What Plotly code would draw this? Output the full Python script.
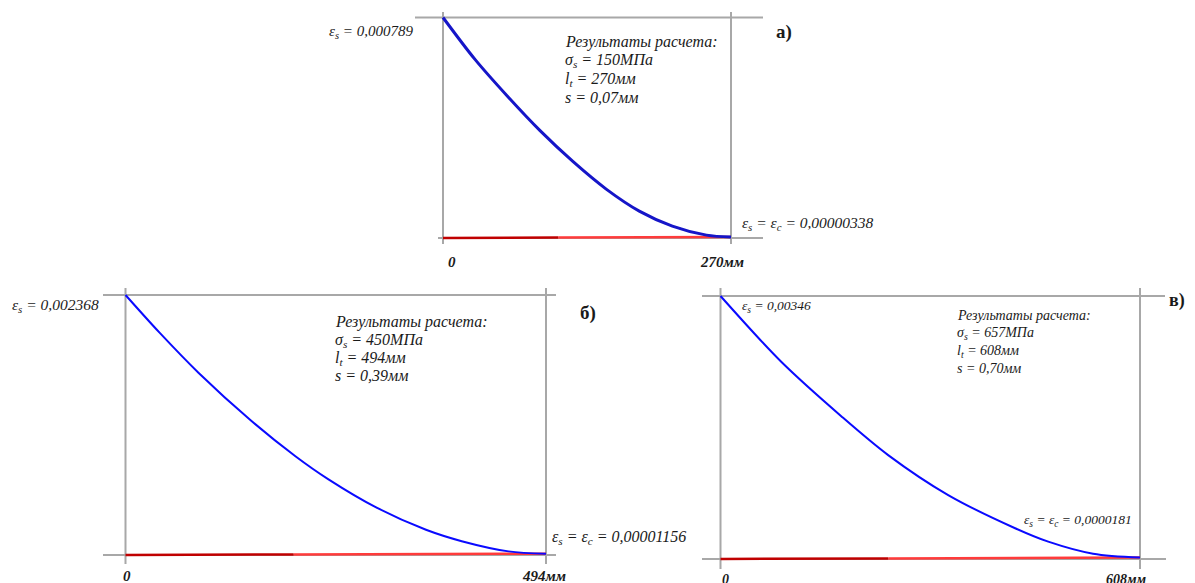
import plotly.graph_objects as go

# ---------------- data ----------------
# panel а)
a_x = [0, 30, 60, 91, 122, 153, 184, 215, 247, 270]
a_eps = [0.000789, 0.000639, 0.000509, 0.000384, 0.000273, 0.000175, 0.0000963, 0.0000426, 0.0000103, 0.00000338]
a_conc_x = [0, 270]
a_conc_eps = [0.0, 0.00000338]

# panel б)
b_x = [0, 40, 86, 147, 200, 238, 295, 353, 395, 450, 494]
b_eps = [0.002368, 0.002025, 0.001658, 0.001227, 0.000897, 0.000691, 0.000431, 0.000230, 0.000126, 0.000033, 0.00001156]
b_conc_x = [0, 494]
b_conc_eps = [0.0, 0.00001156]

# panel в)
c_x = [0, 88, 175, 243, 330, 427, 475, 540, 608]
c_eps = [0.00346, 0.002595, 0.001879, 0.001367, 0.000841, 0.000405, 0.000228, 0.0000692, 0.0000181]
c_conc_x = [0, 608]
c_conc_eps = [0.0, 0.0000181]

# text
a_texts = {"top": "ε<sub>s</sub> = 0,000789",
           "block": ["Результаты расчета:", "σ<sub>s</sub> = 150МПа", "l<sub>t</sub> = 270мм", "s = 0,07мм"],
           "end": "ε<sub>s</sub> = ε<sub>c</sub> = 0,00000338",
           "x0": "0", "x1": "270мм", "tag": "а)"}
b_texts = {"top": "ε<sub>s</sub> = 0,002368",
           "block": ["Результаты расчета:", "σ<sub>s</sub> = 450МПа", "l<sub>t</sub> = 494мм", "s = 0,39мм"],
           "end": "ε<sub>s</sub> = ε<sub>c</sub> = 0,00001156",
           "x0": "0", "x1": "494мм", "tag": "б)"}
c_texts = {"top": "ε<sub>s</sub> = 0,00346",
           "block": ["Результаты расчета:", "σ<sub>s</sub> = 657МПа", "l<sub>t</sub> = 608мм", "s = 0,70мм"],
           "end": "ε<sub>s</sub> = ε<sub>c</sub> = 0,0000181",
           "x0": "0", "x1": "608мм", "tag": "в)"}

# ---------------- layout geometry (screen pixels) ----------------
SCR_W, SCR_H = 1195, 583
OFF = 8                      # default page body margin
W, H = SCR_W - OFF, SCR_H - OFF
GRAY = "#a8a8a8"
TXT = "#1a1a1a"
SERIF = "Liberation Serif, 'Times New Roman', Times, serif"

panels = [
    dict(xs=a_x, ys=a_eps, cx=a_conc_x, cy=a_conc_eps, t=a_texts,
         L0=443, L1=731, T=17.5, B=238,
         top_l=415, top_r=763, bot_l=438, bot_r=763, v_t=12, v_b=244,
         blue="#1515c8", bw=3.0,
         top_pos=(415, 32, "right", 15),
         block_pos=(563, [42, 60.5, 79, 97.5], 16),
         end_pos=(740, 224, 15.5),
         x0_pos=(452, 262), x1_pos=(722, 262), lab_size=15,
         tag_pos=(784, 32, "center", 19)),
    dict(xs=b_x, ys=b_eps, cx=b_conc_x, cy=b_conc_eps, t=b_texts,
         L0=125.5, L1=546, T=295, B=555,
         top_l=103, top_r=556, bot_l=103, bot_r=556, v_t=288, v_b=564,
         blue="#0a0aff", bw=2.0,
         top_pos=(101, 305, "right", 15.5),
         block_pos=(333, [322, 340, 358, 375.5], 16),
         end_pos=(550, 537, 16),
         x0_pos=(127, 576), x1_pos=(544, 576), lab_size=15,
         tag_pos=(588, 313, "center", 19)),
    dict(xs=c_x, ys=c_eps, cx=c_conc_x, cy=c_conc_eps, t=c_texts,
         L0=720.5, L1=1140, T=296, B=559,
         top_l=702, top_r=1165, bot_l=702, bot_r=1166, v_t=288, v_b=569,
         blue="#0a0aff", bw=2.0,
         top_pos=(740, 306, "left", 13.5),
         block_pos=(955, [315, 333, 351, 368.5], 14),
         end_pos=(1022, 520, 13.5),
         x0_pos=(725, 579), x1_pos=(1126, 579), lab_size=14,
         tag_pos=(1187, 300, "right", 18)),
]

fig = go.Figure()
shapes = []
annotations = []


def px(xp):
    return (xp - OFF) / W


def py(yp):
    return 1 - (yp - OFF) / H


for i, p in enumerate(panels):
    n = "" if i == 0 else str(i + 1)
    xa, ya = "x" + n, "y" + n
    Lmax = p["xs"][-1]
    Ymax = p["ys"][0]
    kx = Lmax / (p["L1"] - p["L0"])
    ky = Ymax / (p["B"] - p["T"])

    def dx(xp, p=p, kx=kx):
        return (xp - p["L0"]) * kx

    def dy(yp, p=p, ky=ky):
        return (p["B"] - yp) * ky

    dl, dr = min(p["top_l"], p["bot_l"]) - 4, max(p["top_r"], p["bot_r"]) + 4
    dt, db = p["v_t"] - 4, p["v_b"] + 4
    axis_common = dict(showgrid=False, zeroline=False, showticklabels=False,
                       showline=False, ticks="", fixedrange=True)
    fig.update_layout(**{
        ("xaxis" + n): dict(domain=[px(dl), px(dr)], range=[dx(dl), dx(dr)],
                            anchor=ya, **axis_common),
        ("yaxis" + n): dict(domain=[py(db), py(dt)], range=[dy(db), dy(dt)],
                            anchor=xa, **axis_common),
    })

    # gray frame lines (axes)
    line = dict(color=GRAY, width=2)
    shapes += [
        dict(type="line", xref=xa, yref=ya, x0=dx(p["top_l"]), x1=dx(p["top_r"]), y0=Ymax, y1=Ymax, line=line, layer="below"),
        dict(type="line", xref=xa, yref=ya, x0=dx(p["bot_l"]), x1=dx(p["bot_r"]), y0=0, y1=0, line=line, layer="below"),
        dict(type="line", xref=xa, yref=ya, x0=0, x1=0, y0=dy(p["v_b"]), y1=dy(p["v_t"]), line=line, layer="below"),
        dict(type="line", xref=xa, yref=ya, x0=Lmax, x1=Lmax, y0=dy(p["v_b"]), y1=dy(p["v_t"]), line=line, layer="below"),
    ]

    # concrete strain (red) – drawn in two tones like the source
    cx0, cx1 = p["cx"]
    cy0, cy1 = p["cy"]
    xs_split = cx0 + 0.4 * (cx1 - cx0)
    ys_split = cy0 + 0.4 * (cy1 - cy0)
    fig.add_trace(go.Scatter(x=[cx0, xs_split], y=[cy0, ys_split], mode="lines",
                             line=dict(color="#c00000", width=2.5),
                             xaxis=xa, yaxis=ya, showlegend=False, hoverinfo="skip"))
    fig.add_trace(go.Scatter(x=[xs_split, cx1], y=[ys_split, cy1], mode="lines",
                             line=dict(color="#ff3b3b", width=2.5),
                             xaxis=xa, yaxis=ya, showlegend=False, hoverinfo="skip"))
    # steel strain (blue)
    fig.add_trace(go.Scatter(x=p["xs"], y=p["ys"], mode="lines",
                             line=dict(color=p["blue"], width=p["bw"], shape="spline", smoothing=0.9),
                             xaxis=xa, yaxis=ya, showlegend=False, hoverinfo="skip"))

    def ann(text, xp, yp, anchor, size, italic=True):
        annotations.append(dict(text=("<i>" + text + "</i>") if italic else text,
                                x=px(xp), y=py(yp), xref="paper", yref="paper",
                                xanchor=anchor, yanchor="middle", showarrow=False,
                                font=dict(family=SERIF, size=size, color=TXT)))

    t = p["t"]
    tx, tyy, tanc, tsz = p["top_pos"]
    ann(t["top"], tx, tyy, tanc, tsz)
    bx, bys, bsz = p["block_pos"]
    for line_text, yy in zip(t["block"], bys):
        ann(line_text, bx, yy, "left", bsz)
    ex, ey, esz = p["end_pos"]
    ann(t["end"], ex, ey, "left", esz)
    ann("<b>" + t["x0"] + "</b>", p["x0_pos"][0], p["x0_pos"][1], "center", p["lab_size"])
    ann("<b>" + t["x1"] + "</b>", p["x1_pos"][0], p["x1_pos"][1], "center", p["lab_size"])
    gx, gy, ganc, gsz = p["tag_pos"]
    ann("<b>" + t["tag"] + "</b>", gx, gy, ganc, gsz, italic=False)

fig.update_layout(width=W, height=H, margin=dict(l=0, r=0, t=0, b=0),
                  paper_bgcolor="white", plot_bgcolor="rgba(0,0,0,0)",
                  shapes=shapes, annotations=annotations, showlegend=False)

fig.write_html("out.html")
